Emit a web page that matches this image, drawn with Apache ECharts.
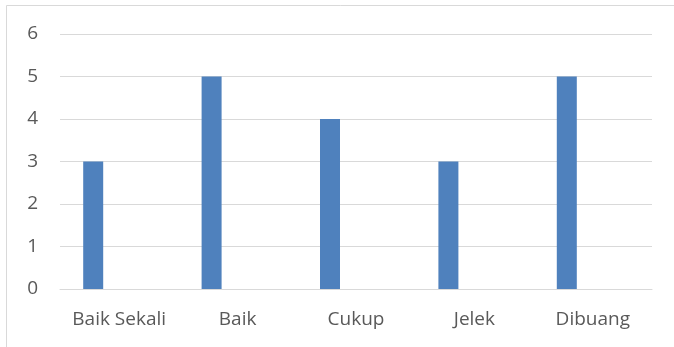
<!DOCTYPE html>
<html><head><meta charset="utf-8">
<script src="https://cdn.jsdelivr.net/npm/echarts@6/dist/echarts.min.js"></script>
<style>html,body{margin:0;padding:0;background:#fff}#c{width:674px;height:347px}</style>
</head><body><div id="c"></div>
<script>
const categories = ['Baik Sekali', 'Baik', 'Cukup', 'Jelek', 'Dibuang'];
const values = [3, 5, 4, 3, 5];
const emptySeries = ['-', '-', '-', '-', '-'];
const yMin = 0, yMax = 6, yStep = 1;

const chart = echarts.init(document.getElementById('c'), null, {renderer: 'canvas'});
chart.setOption({
  animation: false,
  backgroundColor: '#fff',
  graphic: [{type: 'rect', shape: {x: 6.5, y: 5.5, width: 700, height: 400}, style: {fill: 'none', stroke: '#d9d9d9', lineWidth: 1}, silent: true}],
  grid: {left: 60, right: 22, top: 34, bottom: 58},
  xAxis: {
    type: 'category', data: categories,
    axisLine: {lineStyle: {color: '#d9d9d9', width: 1}},
    axisTick: {show: false},
    axisLabel: {interval: 0, hideOverlap: false, color: '#595959', fontFamily: 'Open Sans', fontSize: 19, margin: 21}
  },
  yAxis: {
    type: 'value', min: yMin, max: yMax, interval: yStep,
    axisLine: {show: false}, axisTick: {show: false},
    splitLine: {lineStyle: {color: '#d9d9d9', width: 1}},
    axisLabel: {color: '#595959', fontFamily: 'Open Sans', fontSize: 19, margin: 22}
  },
  series: [
    {type: 'bar', data: values, barWidth: 20, barGap: '160%', itemStyle: {color: '#4f81bd'}},
    {type: 'bar', data: emptySeries, barWidth: 20, itemStyle: {color: '#c0504d'}}
  ]
});
</script></body></html>
